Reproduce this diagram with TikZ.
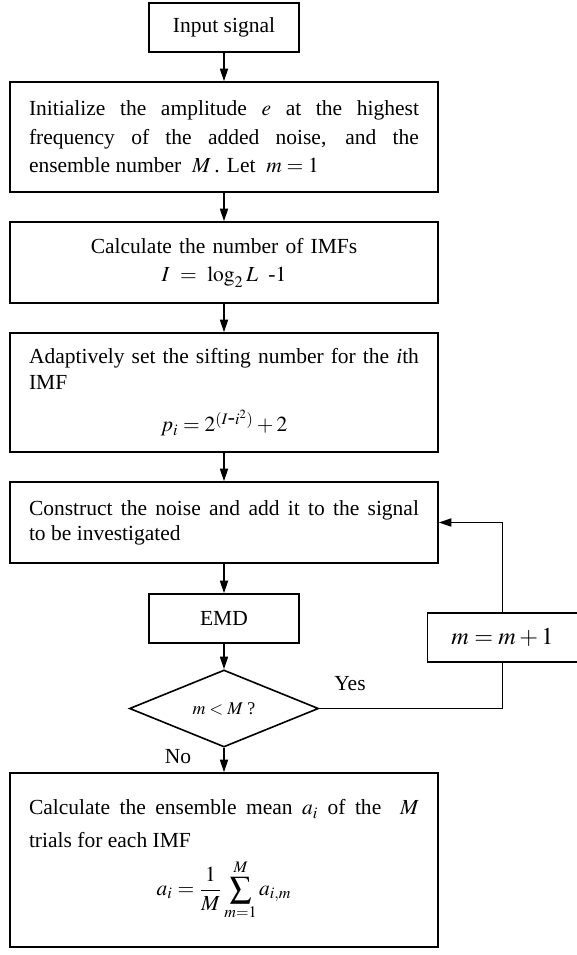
\documentclass[tikz,border=0pt]{standalone}
\usepackage{mathptmx}
\usepackage{fontspec}
\setmainfont{Liberation Serif}
\usetikzlibrary{shapes.geometric,arrows.meta}

\begin{document}
\begin{tikzpicture}[x=0.558pt, y=-0.558pt]
	\tikzstyle{block}    = [rectangle, draw=black, line width=0.9pt, fill=white, inner sep=0pt, font=\fontsize{12pt}{16pt}\selectfont]
	\tikzstyle{wide}     = [block, minimum width=238.8pt, text width=217.6pt]
	\tikzstyle{small}    = [block, minimum width=83.7pt, minimum height=27.3pt]
	\tikzstyle{decision} = [diamond, draw=black, line width=0.9pt, aspect=2.45, minimum width=105.5pt, minimum height=43pt, inner sep=0pt, font=\fontsize{10pt}{12pt}\selectfont]
	\tikzstyle{arrow}    = [line width=0.9pt, -{Triangle[length=7pt,width=4.5pt]}]
	\tikzstyle{tag}      = [font=\fontsize{12pt}{14pt}\selectfont]

	\useasboundingbox (0,0) rectangle (576,955);

	% main column
	\node[small] (input) at (224,27.5) {Input signal};
	\node[wide, minimum height=61.4pt, align=justify] (init) at (224,137)
		{Initialize the amplitude $e$ at the highest\linebreak frequency of the added noise, and the\linebreak ensemble number~ $M$\,. Let~ $m=1$};
	\node[wide, minimum height=45.2pt, align=center] (count) at (224,262.5)
		{Calculate the number of IMFs\\ $I=\log_2 L\;\mbox{-}1$};
	\node[wide, minimum height=66.4pt, align=justify, font=\fontsize{12pt}{14.5pt}\selectfont] (sift) at (224,392.5)
		{Adaptively set the sifting number for the \textit{i}th\linebreak IMF\par\vspace{9pt}\centering $p_i=2^{(I\mbox{-}i^2)}+2$\par};
	\node[wide, minimum height=45.2pt, align=justify, font=\fontsize{12pt}{14pt}\selectfont] (noise) at (224,522.5)
		{Construct the noise and add it to the signal\linebreak to be investigated};
	\node[small] (emd) at (224,618.5) {EMD};
	\node[decision] (cond) at (224,708.5) {$m<M$ ?};
	\node[wide, minimum height=97.1pt, align=justify, font=\fontsize{12pt}{18pt}\selectfont] (mean) at (224,860)
		{Calculate the ensemble mean $a_i$ of the~ $M$\linebreak trials for each IMF\par\vspace{6pt}\centering $\displaystyle a_i=\frac{1}{M}\sum_{m=1}^{M}a_{i,m}$\par};

	% loop back
	\node[small, font=\fontsize{13.5pt}{16pt}\selectfont] (inc) at (502.5,637.5) {$m=m+1$};

	\node[tag] (yes) at (350,684) {Yes};
	\node[tag] (no) at (178,757) {No};

	\foreach \from/\to in {input/init, init/count, count/sift, sift/noise, noise/emd, emd/cond, cond/mean}
		\draw[arrow] (\from) -- (\to);

	\draw[line width=0.9pt] (cond) -| (inc);
	\draw[arrow] (inc) |- (noise);
\end{tikzpicture}
\end{document}
